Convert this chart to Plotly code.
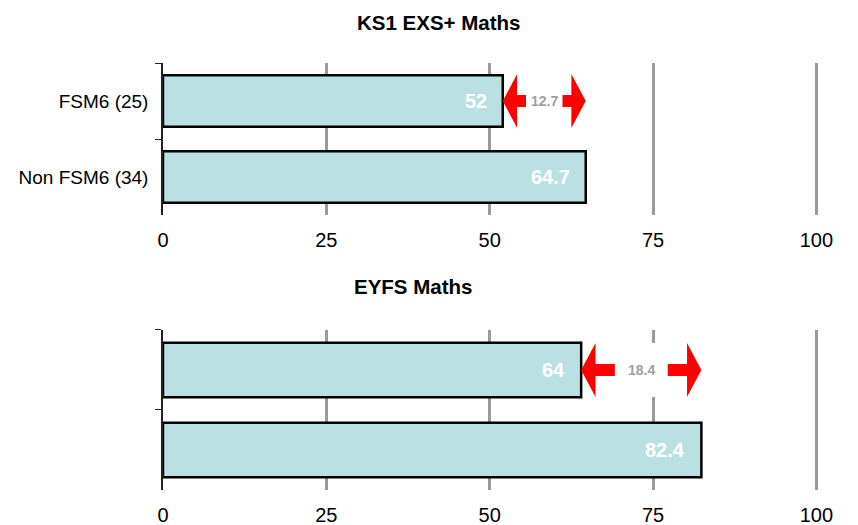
import plotly.graph_objects as go

# data
groups = ["FSM6 (25)", "Non FSM6 (34)"]
ks1_values = [52, 64.7]
eyfs_values = [64, 82.4]
titles = ["KS1 EXS+ Maths", "EYFS Maths"]
tick_vals = [0, 25, 50, 75, 100]

BAR_FILL = "#BBE0E3"
FONT = "Liberation Sans, Arial, sans-serif"

fig = go.Figure()

panels = [(ks1_values, "x", "y"), (eyfs_values, "x2", "y2")]
for values, xa, ya in panels:
    fig.add_trace(go.Bar(
        x=values, y=groups, orientation="h",
        xaxis=xa, yaxis=ya, width=0.68,
        marker=dict(color=BAR_FILL, line=dict(color="black", width=2.5)),
        hoverinfo="x+y", showlegend=False,
    ))
    # value labels inside the bar ends
    for g, v in zip(groups, values):
        fig.add_annotation(
            x=v, y=g, xref=xa, yref=ya, text=f"<b>{v:g}</b>",
            showarrow=False, xanchor="right", xshift=-14,
            font=dict(family=FONT, size=20, color="white"),
        )

    # gap arrows between the two bar ends, on the first row
    lo, hi = values[0], values[1]
    gap = round(hi - lo, 1)
    length = 0.28 * gap
    head = 2.2
    # white backing so grid lines don't run through the gap label
    fig.add_shape(
        type="rect", x0=lo + 0.4, x1=hi, y0=-27, y1=27, xref=xa, yref=ya,
        ysizemode="pixel", yanchor=0, layer="between",
        fillcolor="white", line=dict(width=0),
    )
    for tip, sign in [(lo, 1), (hi, -1)]:
        xs = [tip, tip + sign * head, tip + sign * head, tip + sign * length,
              tip + sign * length, tip + sign * head, tip + sign * head]
        ys = [0, 27, 6, 6, -6, -6, -27]
        path = "M " + " L ".join(f"{a},{b}" for a, b in zip(xs, ys)) + " Z"
        fig.add_shape(
            type="path", path=path, xref=xa, yref=ya,
            ysizemode="pixel", yanchor=0,
            fillcolor="#FF0000", line=dict(width=0),
        )
    fig.add_annotation(
        x=(lo + hi) / 2, y=groups[0], xref=xa, yref=ya, text=f"<b>{gap:g}</b>",
        showarrow=False, font=dict(family=FONT, size=14, color="#A0A0A0"),
    )

# page adds an 8px body margin, so positions are offset to compensate
title_pos = [(0.4205, 0.9733), (0.381, 0.4686)]
for t, (tx, ty) in zip(titles, title_pos):
    fig.add_annotation(
        x=tx, y=ty, xref="paper", yref="paper", text=f"<b>{t}</b>",
        showarrow=False, yanchor="middle",
        font=dict(family=FONT, size=20.5, color="black"),
    )

xaxis_style = dict(
    range=[0, 100.4], tickvals=tick_vals, showgrid=True, gridcolor="#9A9A9A",
    gridwidth=2.5, zeroline=False, showline=False, ticks="",
    tickfont=dict(family=FONT, size=20, color="black"), fixedrange=True,
    automargin=False, ticklabelstandoff=11,
)
yaxis_style = dict(
    autorange="reversed", showline=True, linecolor="#222", linewidth=1.5,
    ticks="outside", tickson="boundaries", ticklen=6, tickcolor="#222",
    tickfont=dict(family=FONT, size=19, color="black"), showgrid=False,
    ticklabelstandoff=9, automargin=False,
)

fig.update_layout(
    width=858, height=525,
    margin=dict(l=155, r=47, t=0, b=0),
    paper_bgcolor="white", plot_bgcolor="white",
    bargap=0.32,
    xaxis=dict(domain=[0, 1], anchor="y", **xaxis_style),
    yaxis=dict(domain=[0.6057, 0.8952], anchor="x", **yaxis_style),
    xaxis2=dict(domain=[0, 1], anchor="y2", **xaxis_style),
    yaxis2=dict(domain=[0.0819, 0.3867], anchor="x2", showticklabels=False,
                **yaxis_style),
)

fig.write_html("out.html")
